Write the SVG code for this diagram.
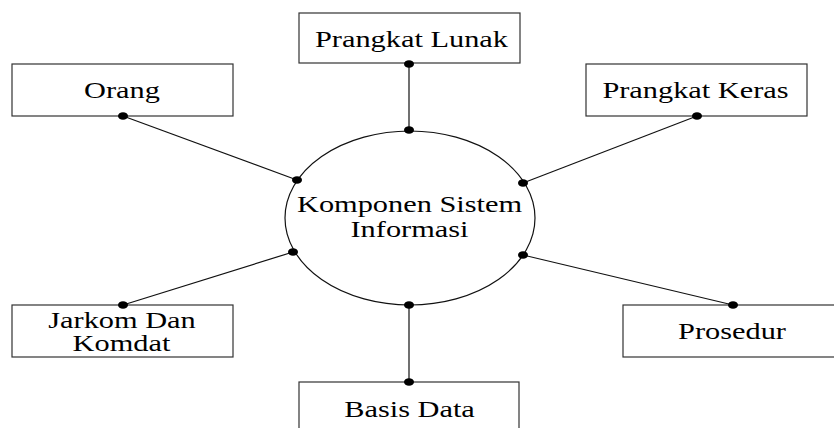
<svg xmlns="http://www.w3.org/2000/svg" width="834" height="428" viewBox="0 0 834 428">
  <style>
    .box { fill: #ffffff; stroke: #333333; stroke-width: 1.2; }
    .hub { fill: #ffffff; stroke: #111111; stroke-width: 1.2; }
    .link { stroke: #111111; stroke-width: 1.2; fill: none; }
    .dot { fill: #000000; }
    text { font-family: "Liberation Serif", "Times New Roman", Times, serif; font-size: 23px; fill: #000000; text-anchor: middle; }
  </style>
  <rect width="834" height="428" fill="#ffffff"/>

  <!-- connectors from the central component to each part -->
  <g id="connectors">
    <line class="link" x1="409" y1="64" x2="409" y2="130"/>
    <line class="link" x1="123" y1="116" x2="297" y2="180"/>
    <line class="link" x1="697" y1="116" x2="523" y2="183"/>
    <line class="link" x1="123" y1="305" x2="293" y2="252"/>
    <line class="link" x1="733" y1="305" x2="523" y2="255"/>
    <line class="link" x1="409" y1="305" x2="409" y2="382"/>
  </g>

  <!-- labels are drawn at 23px and widened horizontally -->
  <g id="hub">
    <ellipse class="hub" cx="410" cy="218" rx="125" ry="87"/>
    <text transform="translate(409.5 212) scale(1.32 1)">Komponen Sistem</text>
    <text transform="translate(409.5 237) scale(1.32 1)">Informasi</text>
  </g>

  <g id="prangkat-lunak">
    <rect class="box" x="299" y="13" width="221" height="50"/>
    <text transform="translate(411.5 46.5) scale(1.32 1)">Prangkat Lunak</text>
  </g>

  <g id="orang">
    <rect class="box" x="12" y="64" width="221" height="52"/>
    <text transform="translate(122 97.5) scale(1.32 1)">Orang</text>
  </g>

  <g id="prangkat-keras">
    <rect class="box" x="586" y="64" width="221" height="52"/>
    <text transform="translate(695.5 97.5) scale(1.32 1)">Prangkat Keras</text>
  </g>

  <g id="jarkom-komdat">
    <rect class="box" x="12" y="305" width="221" height="52"/>
    <text transform="translate(122 327.5) scale(1.32 1)">Jarkom Dan</text>
    <text transform="translate(121.5 350.5) scale(1.32 1)">Komdat</text>
  </g>

  <g id="prosedur">
    <rect class="box" x="623" y="305" width="230" height="52"/>
    <text transform="translate(732 338.5) scale(1.32 1)">Prosedur</text>
  </g>

  <g id="basis-data">
    <rect class="box" x="299" y="382" width="220" height="60"/>
    <text transform="translate(409.5 416.5) scale(1.32 1)">Basis Data</text>
  </g>

  <!-- joint dots at both ends of every connector -->
  <g id="joints">
    <ellipse class="dot" cx="409" cy="64" rx="5" ry="3.8"/>
    <ellipse class="dot" cx="409" cy="130" rx="5" ry="3.8"/>
    <ellipse class="dot" cx="123" cy="116" rx="5" ry="3.8"/>
    <ellipse class="dot" cx="297" cy="180" rx="5" ry="3.8"/>
    <ellipse class="dot" cx="697" cy="116" rx="5" ry="3.8"/>
    <ellipse class="dot" cx="523" cy="183" rx="5" ry="3.8"/>
    <ellipse class="dot" cx="123" cy="305" rx="5" ry="3.8"/>
    <ellipse class="dot" cx="293" cy="252" rx="5" ry="3.8"/>
    <ellipse class="dot" cx="733" cy="305" rx="5" ry="3.8"/>
    <ellipse class="dot" cx="523" cy="255" rx="5" ry="3.8"/>
    <ellipse class="dot" cx="409" cy="305" rx="5" ry="3.8"/>
    <ellipse class="dot" cx="409" cy="382" rx="5" ry="3.8"/>
  </g>
</svg>
